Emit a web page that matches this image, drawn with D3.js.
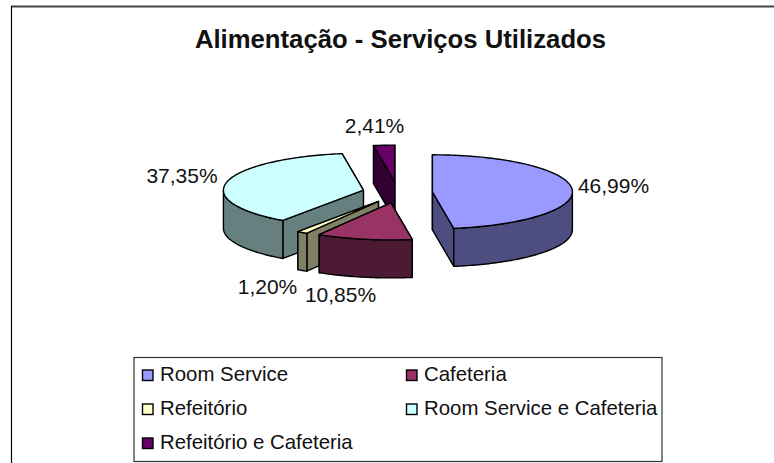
<!DOCTYPE html>
<html>
<head>
<meta charset="utf-8">
<script src="https://cdn.jsdelivr.net/npm/d3@7"></script>
<style>
  body { margin: 0; background: #fff; }
  svg { display: block; }
  text { font-family: "Liberation Sans", Arial, sans-serif; fill: #111; }
</style>
</head>
<body>
<svg width="774" height="463"></svg>
<script>
// values
const categories = ["Room Service", "Cafeteria", "Refeitório", "Room Service e Cafeteria", "Refeitório e Cafeteria"];
const percents = [46.99, 10.85, 1.20, 37.35, 2.41];
const topColors = ["#9999ff", "#993366", "#ffffcc", "#ccffff", "#660066"];
const sideColors = ["#4d4d80", "#4d1a33", "#808066", "#668080", "#330033"];
const legendOrder = [0, 1, 2, 3, 4];

const svg = d3.select("svg");

// pie layout
const cx = 397.5, cy = 192.6, rx = 140, ry = 37, depth = 38;
const explode = 35, explodeTilt = 0.3;

// label positions, same order as the categories
const labelPos = [[613.5, 186], [340.5, 295], [267.5, 287], [182, 176], [374.5, 126]];

// chart frame, only top and left are inside the picture
svg.append("line")
  .attr("x1", 11).attr("y1", 6.5).attr("x2", 774).attr("y2", 6.5)
  .attr("stroke", "#444").attr("stroke-width", 2);
svg.append("line")
  .attr("x1", 11.5).attr("y1", 6).attr("x2", 11.5).attr("y2", 463)
  .attr("stroke", "#000").attr("stroke-width", 1.2);

svg.append("text")
  .attr("x", 400.5).attr("y", 48)
  .attr("text-anchor", "middle")
  .attr("font-size", 25.7).attr("font-weight", "bold")
  .text("Alimentação - Serviços Utilizados");

const pie = d3.pie().sort(null).startAngle(0).endAngle(2 * Math.PI);
const slices = pie(percents).map(function(d, i) {
  const mid = (d.startAngle + d.endAngle) / 2;
  return {
    i: i,
    a0: d.startAngle,
    a1: d.endAngle,
    x: cx + explode * Math.sin(mid),
    y: cy - explode * explodeTilt * Math.cos(mid)
  };
});

const line = d3.line();

function rim(s, a, drop) {
  return [s.x + rx * Math.sin(a), s.y - ry * Math.cos(a) + drop];
}

function arcPoints(s, a0, a1, drop) {
  const n = Math.max(2, Math.ceil((a1 - a0) / 0.02));
  return d3.range(n + 1).map(function(k) { return rim(s, a0 + (a1 - a0) * k / n, drop); });
}

// back to front
slices.slice().sort(function(a, b) { return a.y - b.y; }).forEach(function(s) {
  const g = svg.append("g").attr("stroke", "#000").attr("stroke-width", 1.4).attr("stroke-linejoin", "round");

  // cut faces, the one further back first
  [s.a0, s.a1].sort(function(a, b) { return rim(s, a, 0)[1] - rim(s, b, 0)[1]; }).forEach(function(a) {
    const p = rim(s, a, 0), q = rim(s, a, depth);
    g.append("path")
      .attr("d", line([[s.x, s.y], p, q, [s.x, s.y + depth]]) + "Z")
      .attr("fill", sideColors[s.i]);
  });

  // outer wall, only the part facing the viewer
  const w0 = Math.max(s.a0, Math.PI / 2), w1 = Math.min(s.a1, 3 * Math.PI / 2);
  if (w1 > w0) {
    const pts = arcPoints(s, w0, w1, 0).concat(arcPoints(s, w0, w1, depth).reverse());
    g.append("path").attr("d", line(pts) + "Z").attr("fill", sideColors[s.i]);
  }

  // top face
  g.append("path")
    .attr("d", line([[s.x, s.y]].concat(arcPoints(s, s.a0, s.a1, 0))) + "Z")
    .attr("fill", topColors[s.i]);
});

// data labels
const fmt = function(v) { return v.toFixed(2).replace(".", ",") + "%"; };
percents.forEach(function(v, i) {
  svg.append("text")
    .attr("x", labelPos[i][0]).attr("y", labelPos[i][1] + 7)
    .attr("text-anchor", "middle")
    .attr("font-size", 21)
    .text(fmt(v));
});

// legend
const legend = svg.append("g");
legend.append("rect")
  .attr("x", 134).attr("y", 357.5)
  .attr("width", 528).attr("height", 104)
  .attr("fill", "#fff").attr("stroke", "#333").attr("stroke-width", 1.2);

const colX = d3.scaleBand().domain([0, 1]).range([142, 670]);
const rowY = d3.scaleBand().domain([0, 1, 2]).range([357, 459]);

legendOrder.forEach(function(c, k) {
  const col = k % 2, row = Math.floor(k / 2);
  const y = rowY(row) + rowY.bandwidth() / 2;
  legend.append("rect")
    .attr("x", colX(col) + 0.5).attr("y", y - 4)
    .attr("width", 10.5).attr("height", 10.5)
    .attr("fill", topColors[c]).attr("stroke", "#000").attr("stroke-width", 1.4);
  legend.append("text")
    .attr("x", colX(col) + 18).attr("y", y + 7)
    .attr("font-size", 20.4)
    .text(categories[c]);
});
</script>
</body>
</html>
